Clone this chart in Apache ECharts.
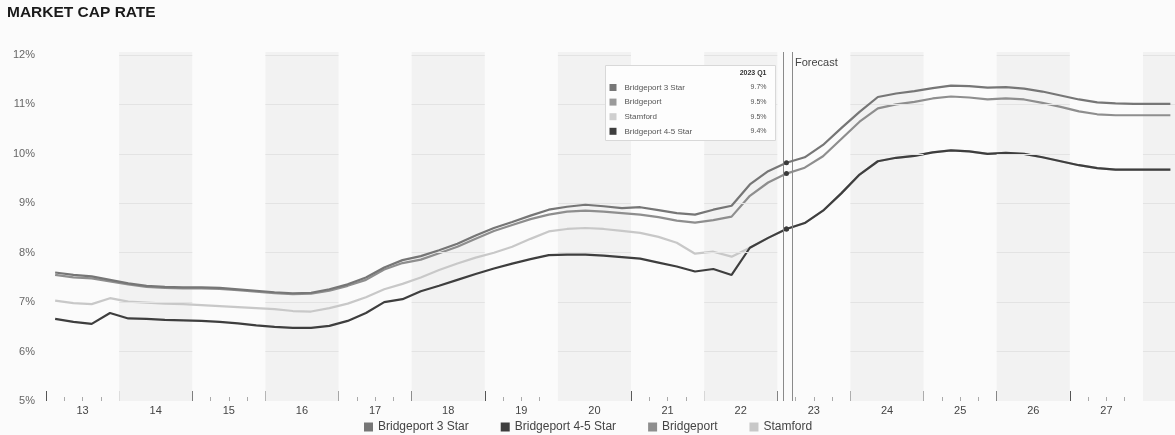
<!DOCTYPE html>
<html>
<head>
<meta charset="utf-8">
<script src="https://cdn.jsdelivr.net/npm/echarts@6/dist/echarts.min.js"></script>
<style>
  html, body { margin: 0; padding: 0; background: #fbfbfb; overflow: hidden; }
  #chart { width: 1175px; height: 435px; }
</style>
</head>
<body>
<div id="chart"></div>
<script>
// Quarterly market cap rates (%), 2013 Q1 through 2028 Q2
const quarters = [
  '2013 Q1','2013 Q2','2013 Q3','2013 Q4','2014 Q1','2014 Q2','2014 Q3','2014 Q4',
  '2015 Q1','2015 Q2','2015 Q3','2015 Q4','2016 Q1','2016 Q2','2016 Q3','2016 Q4',
  '2017 Q1','2017 Q2','2017 Q3','2017 Q4','2018 Q1','2018 Q2','2018 Q3','2018 Q4',
  '2019 Q1','2019 Q2','2019 Q3','2019 Q4','2020 Q1','2020 Q2','2020 Q3','2020 Q4',
  '2021 Q1','2021 Q2','2021 Q3','2021 Q4','2022 Q1','2022 Q2','2022 Q3','2022 Q4',
  '2023 Q1','2023 Q2','2023 Q3','2023 Q4','2024 Q1','2024 Q2','2024 Q3','2024 Q4',
  '2025 Q1','2025 Q2','2025 Q3','2025 Q4','2026 Q1','2026 Q2','2026 Q3','2026 Q4',
  '2027 Q1','2027 Q2','2027 Q3','2027 Q4','2028 Q1','2028 Q2'
];

const bridgeport3Star = [
  7.60, 7.55, 7.52, 7.45, 7.38, 7.33, 7.31, 7.30,
  7.30, 7.29, 7.26, 7.23, 7.20, 7.18, 7.19, 7.26,
  7.36, 7.50, 7.70, 7.85, 7.93, 8.05, 8.18, 8.35,
  8.50, 8.62, 8.75, 8.87, 8.93, 8.97, 8.94, 8.90,
  8.92, 8.86, 8.80, 8.77, 8.87, 8.95, 9.38, 9.65,
  9.82, 9.93, 10.18, 10.52, 10.85, 11.15, 11.22, 11.27,
  11.33, 11.38, 11.37, 11.34, 11.35, 11.32, 11.26, 11.18,
  11.10, 11.04, 11.02, 11.01, 11.01, 11.01
];

const bridgeport = [
  7.55, 7.50, 7.48, 7.42, 7.36, 7.31, 7.29, 7.28,
  7.28, 7.27, 7.24, 7.21, 7.18, 7.16, 7.17, 7.23,
  7.33, 7.45, 7.66, 7.79, 7.86, 7.99, 8.12, 8.28,
  8.44, 8.56, 8.68, 8.77, 8.83, 8.85, 8.83, 8.80,
  8.77, 8.72, 8.65, 8.61, 8.66, 8.73, 9.15, 9.42,
  9.60, 9.72, 9.95, 10.30, 10.65, 10.92, 11.00, 11.05,
  11.12, 11.16, 11.14, 11.10, 11.12, 11.10, 11.03, 10.95,
  10.86, 10.80, 10.78, 10.78, 10.78, 10.78
];

const stamford = [
  7.03, 6.98, 6.96, 7.08, 7.01, 6.99, 6.97, 6.96,
  6.94, 6.92, 6.90, 6.88, 6.86, 6.82, 6.81, 6.88,
  6.97, 7.10, 7.26, 7.37, 7.50, 7.65, 7.78, 7.90,
  8.00, 8.12, 8.28, 8.43, 8.48, 8.50, 8.48, 8.44,
  8.40, 8.32, 8.20, 7.98, 8.02, 7.92, 8.10, 8.30,
  8.48, 8.60, 8.85, 9.20, 9.58, 9.85, 9.92, 9.96,
  10.03, 10.07, 10.05, 10.00, 10.02, 10.00, 9.93, 9.85,
  9.77, 9.71, 9.68, 9.68, 9.68, 9.68
];

const bridgeport45Star = [
  6.66, 6.60, 6.56, 6.78, 6.67, 6.66, 6.64, 6.63,
  6.62, 6.60, 6.57, 6.53, 6.50, 6.48, 6.48, 6.52,
  6.62, 6.78, 7.00, 7.06, 7.22, 7.33, 7.45, 7.57,
  7.68, 7.78, 7.87, 7.95, 7.96, 7.96, 7.94, 7.91,
  7.88, 7.80, 7.72, 7.62, 7.67, 7.55, 8.10, 8.30,
  8.48, 8.60, 8.85, 9.20, 9.58, 9.85, 9.92, 9.96,
  10.03, 10.07, 10.05, 10.00, 10.02, 10.00, 9.93, 9.85,
  9.77, 9.71, 9.68, 9.68, 9.68, 9.68
];

// Axis ticks and shaded (alternate) years
const yTicks = [5, 6, 7, 8, 9, 10, 11, 12];
const shadedYears = [2014, 2016, 2018, 2020, 2022, 2024, 2026, 2028];

// Hover box contents for the highlighted quarter
const boxTitle = '2023 Q1';
const boxNames = ['Bridgeport 3 Star', 'Bridgeport', 'Stamford', 'Bridgeport 4-5 Star'];
const boxValues = ['9.7%', '9.5%', '9.5%', '9.4%'];
const boxColors = ['#777777', '#9a9a9a', '#cfcfcf', '#3e3e3e'];
const highlightQuarter = '2023 Q1';

const X_MIN = 2013;
const X_MAX = 2028.5;
const Y_MIN = 5;
const Y_MAX = 12.06;
const YEAR_PX = 73.13;
const FONT = "'Liberation Sans', Arial, sans-serif";

// quarter label -> fractional year at the middle of that quarter
function qx(label) {
  const parts = label.split(' Q');
  return Number(parts[0]) + (Number(parts[1]) - 0.5) / 4;
}

const hlIndex = quarters.indexOf(highlightQuarter);

function lineSeries(name, values, color, z) {
  return {
    name: name,
    type: 'line',
    xAxisIndex: 0,
    yAxisIndex: 0,
    z: z,
    silent: true,
    animation: false,
    showSymbol: true,
    symbol: 'circle',
    symbolSize: function (v, p) { return p.dataIndex === hlIndex ? 5 : 0; },
    lineStyle: { color: color, width: 2.2 },
    itemStyle: { color: color },
    data: quarters.map(function (q, i) {
      const item = { value: [qx(q), values[i]] };
      if (i === hlIndex) item.itemStyle = { color: '#3a3a3a' };
      return item;
    })
  };
}

// shaded year bands and the horizontal guides drawn only inside them
const bandAreas = shadedYears.map(function (y) {
  return [{ xAxis: y }, { xAxis: Math.min(y + 1, X_MAX) }];
});
const bandGuides = [];
shadedYears.forEach(function (y) {
  yTicks.slice(1).forEach(function (v) {
    bandGuides.push([{ coord: [y, v] }, { coord: [Math.min(y + 1, X_MAX), v] }]);
  });
});

const chart = echarts.init(document.getElementById('chart'), null, { renderer: 'canvas' });

const option = {
  backgroundColor: '#fbfbfb',
  animation: false,
  textStyle: { fontFamily: FONT },
  title: {
    text: 'MARKET CAP RATE',
    left: 7,
    top: 5,
    padding: 0,
    textStyle: { fontFamily: FONT, fontSize: 15.5, fontWeight: 'bold', color: '#1a1a1a' }
  },
  grid: {
    left: 46,
    width: (X_MAX - X_MIN) * YEAR_PX,
    top: 52,
    bottom: 34,
    containLabel: false,
    outerBoundsMode: 'none'
  },
  legend: {
    bottom: 2,
    left: 364,
    padding: 0,
    itemWidth: 9,
    itemHeight: 9,
    itemGap: 32,
    icon: 'rect',
    selectedMode: false,
    textStyle: { fontFamily: FONT, fontSize: 12, color: '#444' },
    data: ['Bridgeport 3 Star', 'Bridgeport 4-5 Star', 'Bridgeport', 'Stamford']
  },
  xAxis: [
    {
      type: 'value',
      min: X_MIN,
      max: X_MAX,
      interval: 1,
      axisLine: { show: false },
      axisTick: { show: true, inside: true, length: 10, lineStyle: { color: '#555', width: 1 } },
      minorTick: { show: true, splitNumber: 4, length: 4, lineStyle: { color: '#aaa', width: 1 } },
      axisLabel: { show: false },
      splitLine: { show: false }
    },
    {
      type: 'value',
      min: X_MIN,
      max: X_MAX,
      interval: 0.5,
      position: 'bottom',
      axisLine: { show: false },
      axisTick: { show: false },
      splitLine: { show: false },
      axisLabel: {
        margin: 4,
        fontSize: 11,
        color: '#444',
        fontFamily: FONT,
        formatter: function (v) {
          const f = v - Math.floor(v);
          return Math.abs(f - 0.5) < 1e-6 && v < X_MAX ? String(Math.floor(v) % 100) : '';
        }
      }
    }
  ],
  yAxis: {
    type: 'value',
    min: Y_MIN,
    max: Y_MAX,
    interval: 1,
    axisLine: { show: false },
    axisTick: { show: false },
    splitLine: { show: false },
    axisLabel: {
      margin: 11,
      fontSize: 11,
      color: '#666',
      fontFamily: FONT,
      formatter: function (v) { return Number.isInteger(v) ? v + '%' : ''; }
    }
  },
  series: [
    {
      name: 'bands',
      type: 'line',
      data: [],
      silent: true,
      z: 0,
      markArea: {
        silent: true,
        itemStyle: { color: '#f2f2f2' },
        data: bandAreas
      },
      markLine: {
        silent: true,
        symbol: 'none',
        label: { show: false },
        lineStyle: { color: '#e3e3e3', width: 1, type: 'solid' },
        data: bandGuides
      }
    },
    {
      name: 'forecast',
      type: 'line',
      data: [],
      silent: true,
      z: 1,
      markLine: {
        silent: true,
        symbol: 'none',
        label: { show: false },
        lineStyle: { color: '#8a8a8a', width: 1, type: 'solid' },
        data: [{ xAxis: 2023.08 }, { xAxis: 2023.2 }]
      }
    },
    lineSeries('Stamford', stamford, '#c8c8c8', 2),
    lineSeries('Bridgeport 4-5 Star', bridgeport45Star, '#3e3e3e', 3),
    lineSeries('Bridgeport', bridgeport, '#8e8e8e', 4),
    lineSeries('Bridgeport 3 Star', bridgeport3Star, '#767676', 5)
  ],
  graphic: [
    {
      type: 'text',
      left: 795,
      top: 57,
      z: 100,
      style: { text: 'Forecast', font: '11px ' + FONT, fill: '#444' }
    },
    {
      type: 'group',
      left: 605,
      top: 65,
      z: 100,
      children: [
        {
          type: 'rect',
          z: 100,
          shape: { x: 0, y: 0, width: 170, height: 75 },
          style: { fill: '#fdfdfd', stroke: '#d8d8d8', lineWidth: 1 }
        },
        {
          type: 'text',
          z: 101,
          style: { text: boxTitle, x: 161, y: 8, align: 'right', verticalAlign: 'middle',
                   font: 'bold 7px ' + FONT, fill: '#333' }
        }
      ].concat(boxNames.flatMap(function (n, i) {
        const cy = 22 + i * 14.6;
        return [
          { type: 'rect', z: 101, shape: { x: 4, y: cy - 3.5, width: 7, height: 7 }, style: { fill: boxColors[i] } },
          { type: 'text', z: 101, style: { text: n, x: 19, y: cy, verticalAlign: 'middle', font: '8px ' + FONT, fill: '#555' } },
          { type: 'text', z: 101, style: { text: boxValues[i], x: 161, y: cy, align: 'right', verticalAlign: 'middle', font: '7px ' + FONT, fill: '#555' } }
        ];
      }))
    }
  ]
};

chart.setOption(option);
</script>
</body>
</html>
